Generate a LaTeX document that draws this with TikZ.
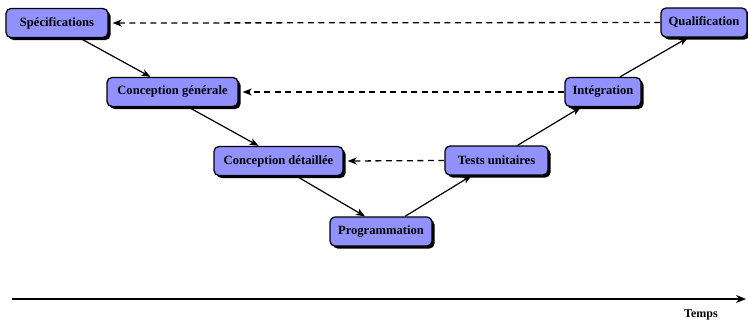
\documentclass[tikz,border=0pt]{standalone}
\usepackage{fontspec}
\setmainfont{Liberation Serif}
\usetikzlibrary{shadows,arrows.meta}
\definecolor{boxfill}{HTML}{9191FF}
\begin{document}
\begin{tikzpicture}[x=1bp,y=-1bp,
  phase/.style={draw=black, line width=1.3bp, fill=boxfill, rounded corners=5bp,
    minimum height=29bp, inner xsep=6bp, font=\bfseries\fontsize{12.6bp}{14bp}\selectfont,
    drop shadow={shadow xshift=2.5bp, shadow yshift=-2.5bp, fill=black, opacity=1}},
  flow/.style={line width=1.2bp, -{Stealth[length=9bp,width=7bp,inset=2.5bp]}},
  back/.style={line width=1.3bp, dash pattern=on 6bp off 4.5bp, -{Stealth[length=9bp,width=7bp,inset=2.5bp]}}]
\useasboundingbox (0,0) rectangle (748,322);
\node[phase, minimum width=102bp] (spec) at (57,23) {Spécifications};
\node[phase, minimum width=131bp] (cg) at (172.5,92) {Conception générale};
\node[phase, minimum width=129bp] (cd) at (278.5,161) {Conception détaillée};
\node[phase, minimum width=102bp] (prog) at (381,231.5) {Programmation};
\node[phase, minimum width=103bp] (tu) at (496.5,160.5) {Tests unitaires};
\node[phase, minimum width=76bp] (integ) at (603,92) {Intégration};
\node[phase, minimum width=86bp] (qual) at (704,22.5) {Qualification};
\draw[flow] ([xshift=23bp]spec.south) -- ([xshift=-22bp]cg.north);
\draw[flow] ([xshift=16bp]cg.south) -- ([xshift=-20bp]cd.north);
\draw[flow] ([xshift=18bp]cd.south) -- ([xshift=-16bp]prog.north);
\draw[flow] ([xshift=24bp]prog.north) -- ([xshift=-25bp]tu.south);
\draw[flow] ([xshift=21bp]tu.north) -- ([xshift=-22bp]integ.south);
\draw[flow] ([xshift=17bp]integ.north) -- ([xshift=-16bp]qual.south);
\draw[back] (qual.west) -- ([xshift=4bp]spec.east);
\draw[back] (integ.west) -- ([xshift=4bp]cg.east);
\draw[back] (tu.west) -- ([xshift=4bp]cd.east);
\coordinate (t0) at (12,299);
\coordinate (t1) at (746,299);
\draw[line width=1.3bp, -{Stealth[length=10bp,width=8bp,inset=3bp]}] (t0) -- (t1);
\node[font=\bfseries\fontsize{12bp}{14bp}\selectfont] (temps) at (701,315) {Temps};
\end{tikzpicture}
\end{document}
